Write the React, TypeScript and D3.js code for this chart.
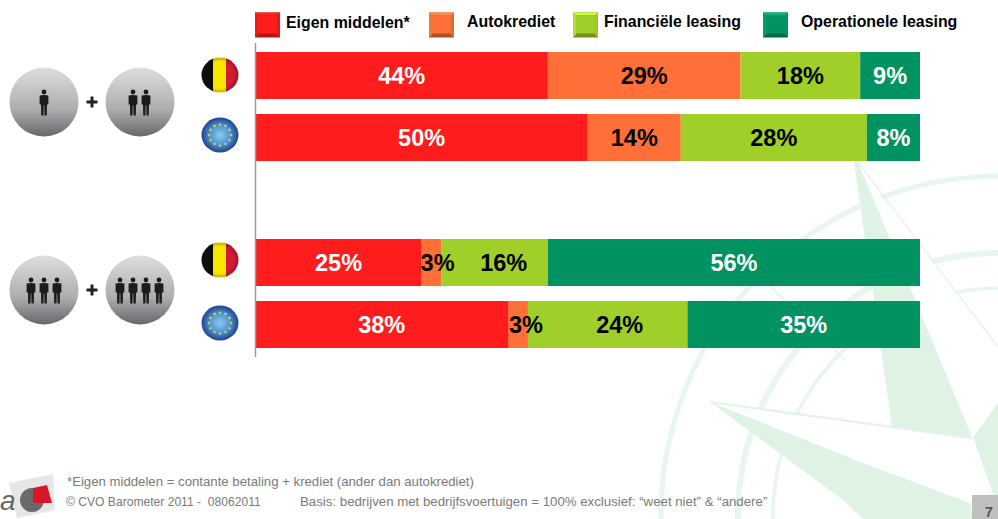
import React from "react";
import * as d3 from "d3";

// ---------- data ----------
const seriesNames = ["Eigen middelen*", "Autokrediet", "Financiële leasing", "Operationele leasing"];
const rowKeys = ["small-BE", "small-EU", "large-BE", "large-EU"];
const eigenMiddelen = [44, 50, 25, 38];
const autokrediet = [29, 14, 3, 3];
const financieleLeasing = [18, 28, 16, 24];
const operationeleLeasing = [9, 8, 56, 35];
const seriesValues = [eigenMiddelen, autokrediet, financieleLeasing, operationeleLeasing];
const footnote = "*Eigen middelen = contante betaling + krediet (ander dan autokrediet)";
const copyright = "© CVO Barometer 2011 -  08062011";
const basis = "Basis: bedrijven met bedrijfsvoertuigen = 100% exclusief: “weet niet” & “andere”";

// ---------- style ----------
const colors = ["#ff1c1c", "#ff6f38", "#9fcf28", "#009260"];
const labelColors = ["#fff", "#000", "#000", "#fff"];
const legendSwatchX = [255, 429, 573, 763];
const legendTextX = [286, 467, 604, 801];
const rowTop = [52, 114, 239, 301];
const rowHeight = 47;
const labelNudge: Record<string, number> = { "2-1": 6, "2-2": 9, "3-1": 8, "3-2": 12 };

const x = d3.scaleLinear().domain([0, 100]).range([255.5, 920]);
const rows = rowKeys.map((key, i) => {
  const o: Record<string, any> = { key };
  seriesNames.forEach((s, j) => (o[s] = seriesValues[j][i]));
  return o;
});
const stacked = d3.stack<any>().keys(seriesNames)(rows);

const arcGen = d3.arc();
const cx = 1000, cy = 515;
const ringPath = (r: number, w: number) =>
  arcGen({ innerRadius: r - w / 2, outerRadius: r + w / 2, startAngle: 0, endAngle: Math.PI * 2 }) as string;

const starPath = d3.symbol().type(d3.symbolStar).size(4)() as string;

function Person({ x: px, y }: { x: number; y: number }) {
  return (
    <g transform={`translate(${px},${y})`} fill="#1b1b1d">
      <circle cx={0} cy={-10.5} r={2.4} />
      <path d="M-4.4,-7 Q0,-8.2 4.4,-7 L4.4,2 L3,2 L2.8,13 L0.5,13 L0.3,3 L-0.3,3 L-0.5,13 L-2.8,13 L-3,2 L-4.4,2 Z" />
    </g>
  );
}

function PeopleBadge({ cxx, cyy, persons }: { cxx: number; cyy: number; persons: number[] }) {
  return (
    <g>
      <circle cx={cxx} cy={cyy} r={34.5} fill="url(#badge)" />
      {persons.map((p) => (
        <Person key={p} x={p} y={cyy + 0.5} />
      ))}
    </g>
  );
}

function Plus({ px, py }: { px: number; py: number }) {
  return (
    <path
      d={`M${px - 5.5},${py}H${px + 5.5}M${px},${py - 5.5}V${py + 5.5}`}
      stroke="#222"
      strokeWidth={3}
    />
  );
}

function FlagBE({ y }: { y: number }) {
  const id = `be${y}`;
  return (
    <g>
      <clipPath id={id}>
        <ellipse cx={220} cy={y} rx={18.5} ry={17.5} />
      </clipPath>
      <g clipPath={`url(#${id})`}>
        <rect x={200} y={y - 18} width={13.5} height={36} fill="#111" />
        <rect x={213} y={y - 18} width={13.5} height={36} fill="#f6e600" />
        <rect x={226} y={y - 18} width={14} height={36} fill="#cf1a34" />
        <ellipse cx={220} cy={y} rx={18.5} ry={17.5} fill="url(#gloss)" />
      </g>
    </g>
  );
}

function FlagEU({ y }: { y: number }) {
  const stars = d3.range(12).map((i) => (i * Math.PI) / 6);
  return (
    <g>
      <ellipse cx={220} cy={y} rx={18.5} ry={17.5} fill="url(#eu)" />
      {stars.map((a, i) => (
        <path
          key={i}
          d={starPath}
          fill="#f6e21a"
          transform={`translate(${220 + 11 * Math.cos(a)},${y + 10.5 * Math.sin(a)})`}
        />
      ))}
    </g>
  );
}

function Swatch({ sx, color }: { sx: number; color: string }) {
  const s = 25;
  const y = 12.5;
  const dark = d3.color(color)!.darker(1).formatHex();
  const light = d3.color(color)!.brighter(0.7).formatHex();
  return (
    <g>
      <rect x={sx} y={y} width={s} height={s} fill={dark} />
      <path d={`M${sx},${y}H${sx + s}L${sx + s - 3},${y + 3}H${sx + 3}Z`} fill={light} />
      <path d={`M${sx},${y}V${y + s}L${sx + 3},${y + s - 3}V${y + 3}Z`} fill={light} opacity={0.7} />
      <path d={`M${sx + s},${y}V${y + s}L${sx + s - 3},${y + s - 3}V${y + 3}Z`} fill={light} opacity={0.5} />
      <rect x={sx + 3} y={y + 3} width={s - 6} height={s - 7} fill={color} />
    </g>
  );
}

export default function App() {
  return (
    <svg
      width={998}
      height={519}
      viewBox="0 0 998 519"
      style={{ position: "absolute", left: 0, top: 0, background: "#fff" }}
      fontFamily="'Liberation Sans', Arial, sans-serif"
    >
      <defs>
        <linearGradient id="badge" x1="0" y1="0" x2="0" y2="1">
          <stop offset="0" stopColor="#dededf" />
          <stop offset="0.6" stopColor="#aeaeb1" />
          <stop offset="1" stopColor="#68686c" />
        </linearGradient>
        <radialGradient id="gloss" cx="0.5" cy="0.5" r="0.55">
          <stop offset="0.7" stopColor="#000" stopOpacity={0} />
          <stop offset="1" stopColor="#000" stopOpacity={0.35} />
        </radialGradient>
        <radialGradient id="eu" cx="0.5" cy="0.5" r="0.55">
          <stop offset="0" stopColor="#8ccbee" />
          <stop offset="0.5" stopColor="#4f94d2" />
          <stop offset="1" stopColor="#16317f" />
        </radialGradient>
        <filter id="soft" x="-5%" y="-5%" width="110%" height="110%">
          <feGaussianBlur stdDeviation="0.5" />
        </filter>
      </defs>

      {/* compass watermark */}
      <g filter="url(#soft)">
        <g transform={`translate(${cx},${cy})`} fill="#e8f6ec">
          <path d={ringPath(339, 5)} />
          <path d={ringPath(262, 6)} />
          <path d={ringPath(227, 3.5)} />
        </g>
        <path d="M767,283L845,360" stroke="#e8f6ec" strokeWidth={2} />
        <path d="M854,162L892,427L972,438L998,403V347Z" fill="#fff" />
        <path d="M710,402L972,438L970,503L863,463Z" fill="#fff" />
        <path d="M854,162L892,427L972,437L858,162Z" fill="#dff3e5" />
        <path d="M858,162L998,347" stroke="#e6f5ea" strokeWidth={1.5} />
        <path d="M710,402L892,427L972,438" stroke="#e0f3e6" strokeWidth={2} fill="none" />
        <path d="M710,402L725,408L863,463L970,503L973,519H863L843,500Z" fill="#dff3e5" />
        <path d="M973,437L998,403V496L993,494Z" fill="#dff3e5" />
      </g>

      {/* legend */}
      {seriesNames.map((s, i) => (
        <g key={s}>
          <Swatch sx={legendSwatchX[i]} color={colors[i]} />
          <text x={legendTextX[i]} y={i === 0 ? 28 : 27} fontSize={15.9} fontWeight="bold" fill="#000">
            {s}
          </text>
        </g>
      ))}

      {/* bars */}
      {stacked.map((layer, j) => (
        <g key={layer.key}>
          {layer.map((d, i) => (
            <rect
              key={i}
              x={x(d[0])}
              y={rowTop[i]}
              width={x(d[1]) - x(d[0])}
              height={rowHeight}
              fill={colors[j]}
            />
          ))}
        </g>
      ))}
      {stacked.map((layer, j) =>
        layer.map((d, i) => (
          <text
            key={`${j}-${i}`}
            x={(x(d[0]) + x(d[1])) / 2 + (labelNudge[`${i}-${j}`] ?? 0)}
            y={rowTop[i] + rowHeight / 2 + 8}
            textAnchor="middle"
            fontSize={23.5}
            fontWeight="bold"
            fill={labelColors[j]}
          >
            {d[1] - d[0]}%
          </text>
        ))
      )}

      {/* axis line */}
      <line x1={255.5} x2={255.5} y1={43} y2={357} stroke="#9a9a9a" strokeWidth={1.5} />

      {/* size groups */}
      <g filter="url(#soft)">
        <PeopleBadge cxx={44} cyy={102} persons={[44]} />
        <Plus px={92} py={102} />
        <PeopleBadge cxx={140} cyy={102} persons={[133, 146]} />
        <PeopleBadge cxx={44} cyy={290} persons={[31, 44, 57]} />
        <Plus px={92} py={290} />
        <PeopleBadge cxx={140} cyy={290} persons={[120, 133, 146, 159]} />
      </g>

      {/* flags */}
      <g filter="url(#soft)">
        <FlagBE y={75} />
        <FlagEU y={135} />
        <FlagBE y={260} />
        <FlagEU y={323} />
      </g>

      {/* footer */}
      <text x={67} y={486} fontSize={13.2} fill="#7a7a7a">{footnote}</text>
      <text x={66} y={506} fontSize={12.1} fill="#7a7a7a" style={{ whiteSpace: "pre" }}>{copyright}</text>
      <text x={300} y={506} fontSize={13.25} fill="#7a7a7a">{basis}</text>

      {/* logo */}
      <g filter="url(#soft)">
        <path d="M9,483L53,474L55,510L17,518Z" fill="#e6e6e6" />
        <circle cx={32} cy={500} r={12} fill="#6b6b6b" />
        <path d="M33,488L47,485L52,503L33,503Z" fill="#d8172c" />
      </g>
      <text x={0} y={510} fontSize={28} fontStyle="italic" fill="#666">a</text>

      {/* page number */}
      <rect x={972} y={495} width={26} height={24} fill="#bfbfbf" />
      <text x={985} y={517} fontSize={14} fontWeight="bold" fill="#555">7</text>
    </svg>
  );
}
